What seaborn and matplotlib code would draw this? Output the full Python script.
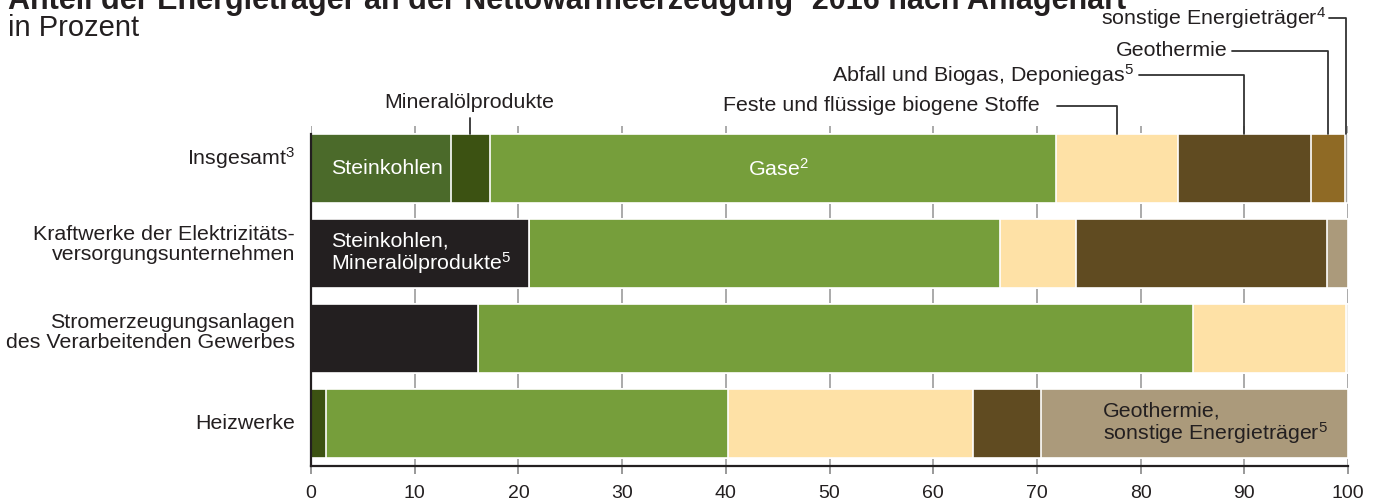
import numpy as np
import pandas as pd
import matplotlib
matplotlib.use("Agg")
import matplotlib.pyplot as plt
import seaborn as sns

# Anteil der Energieträger, in Prozent (von links nach rechts je Zeile)
rows = ["Insgesamt$^3$",
        "Kraftwerke der Elektrizitäts-\nversorgungsunternehmen",
        "Stromerzeugungsanlagen\ndes Verarbeitenden Gewerbes",
        "Heizwerke"]
steinkohlen = [13.5, 21.0, 16.1, 0.0]   # Zeilen 2/3: Steinkohlen + Mineralölprodukte
mineraloel = [3.75, 0.0, 0.0, 1.4]
gase = [54.55, 45.4, 69.0, 38.8]
feste_biogen = [11.8, 7.4, 14.7, 23.6]
abfall = [12.8, 24.2, 0.0, 6.6]
geothermie = [3.3, 2.0, 0.2, 29.6]      # Zeilen 2-4: Geothermie + sonstige
sonstige = [0.3, 0.0, 0.0, 0.0]

series = [steinkohlen, mineraloel, gase, feste_biogen, abfall, geothermie, sonstige]

# colours per series, per row
colors = [
    ["#4b6a2a", "#231f20", "#231f20", "#3c5212"],
    ["#3c5212", "#3c5212", "#3c5212", "#3c5212"],
    ["#769e3b"] * 4,
    ["#fee1a6"] * 4,
    ["#604b21"] * 4,
    ["#8f6a25", "#ab9a7b", "#ab9a7b", "#ab9a7b"],
    ["#a5a5a5"] * 4,
]

sns.set_theme(style="white")
plt.rcParams["font.family"] = ["Liberation Sans", "DejaVu Sans"]
plt.rcParams["mathtext.fontset"] = "custom"
plt.rcParams["mathtext.rm"] = "Liberation Sans"
plt.rcParams["mathtext.it"] = "Liberation Sans:italic"
plt.rcParams["mathtext.bf"] = "Liberation Sans:bold"

DARK = "#231f20"
FS = 15.4      # labels
FS_TICK = 14

fig = plt.figure(figsize=(13.74, 5.04), dpi=100)
ax = fig.add_axes([311 / 1374, 38 / 504, 1037 / 1374, 340 / 504])

cum = np.cumsum(np.array(series), axis=0)
BAR_W = 0.81
# draw cumulative ends from the back so shorter stacks sit on top
for k in range(len(series) - 1, -1, -1):
    df = pd.DataFrame({"row": rows, "wert": cum[k]})
    pal = dict(zip(rows, colors[k]))
    sns.barplot(data=df, x="wert", y="row", hue="row", palette=pal,
                orient="h", width=BAR_W, edgecolor="white", linewidth=1.2,
                legend=False, ax=ax, saturation=1, zorder=2)

ax.set_xlim(0, 100)
ax.set_ylim(3.5, -0.5)
ax.set_xticks(range(0, 101, 10))
ax.set_xlabel("")
ax.set_ylabel("")
ax.grid(axis="x", color="#aaaaaa", lw=1.4, zorder=0)
ax.grid(axis="y", visible=False)
ax.set_axisbelow(True)
ax.tick_params(axis="x", direction="out", length=6, width=1.2, color="#888888",
               labelsize=FS_TICK, labelcolor=DARK, pad=8, bottom=True)
ax.tick_params(axis="y", length=0, labelleft=False)
for s in ["top", "right"]:
    ax.spines[s].set_visible(False)
for s in ["left", "bottom"]:
    ax.spines[s].set_color(DARK)
    ax.spines[s].set_linewidth(1.6)
    ax.spines[s].set_zorder(3)
ax.spines["left"].set_bounds(3.5, -BAR_W / 2)

# row labels (drawn as text so they can sit slightly above centre like the original)
ytr = ax.get_yaxis_transform()
row_shift = [-0.12, -0.11, -0.07, 0.0]
for i, lab in enumerate(rows):
    ax.text(-16 / 1037, i + row_shift[i], lab, transform=ytr, fontsize=FS,
            color=DARK, ha="right", va="center", linespacing=1.05)

# labels inside the bars
ax.text(1.9, 0, "Steinkohlen", color="white", fontsize=FS, va="center", ha="left", zorder=4)
ax.text(45.1, 0, "Gase$^2$", color="white", fontsize=FS, va="center", ha="center", zorder=4)
ax.text(1.9, 1, "Steinkohlen,\nMineralölprodukte$^5$", color="white", fontsize=FS,
        va="center", ha="left", linespacing=1.0, zorder=4)
ax.text(76.4, 3, "Geothermie,\nsonstige Energieträger$^5$", color=DARK, fontsize=FS,
        va="center", ha="left", linespacing=1.0, zorder=4)

# callouts above the first bar
tr = ax.get_xaxis_transform()
bar_top = (3.5 + BAR_W / 2) / 4.0
c0 = cum[:, 0]
starts0 = np.concatenate([[0], c0[:-1]])
centers = (starts0 + c0) / 2

ax.plot([centers[1]] * 2, [bar_top, 1.024], transform=tr, color="#333333",
        lw=1.3, clip_on=False, zorder=5)
ax.text(15.25, 1.068, "Mineralölprodukte", transform=tr, fontsize=FS, color=DARK,
        ha="center", va="center")

callouts = [
    (3, "Feste und flüssige biogene Stoffe", 70.3, 71.97, 1.059),
    (4, "Abfall und Biogas, Deponiegas$^5$", 79.4, 79.8, 1.150),
    (5, "Geothermie", 88.4, 88.8, 1.221),
    (6, "sonstige Energieträger$^4$", 97.9, 98.2, 1.318),
]
for idx, txt, xt, xs, yf in callouts:
    xc = centers[idx]
    ax.plot([xs, xc, xc], [yf, yf, bar_top], transform=tr, color="#333333",
            lw=1.3, clip_on=False, zorder=5)
    ax.text(xt, yf, txt, transform=tr, fontsize=FS, color=DARK,
            ha="right", va="center")

# title (partially cut off at top edge) and unit
fig.text(8 / 1374, 1 - 9 / 504, "Anteil der Energieträger an der Nettowärmeerzeugung¹ 2016 nach Anlagenart",
         fontsize=22, fontweight="bold", color=DARK, ha="left", va="baseline")
fig.text(8 / 1374, 1 - 36 / 504, "in Prozent", fontsize=21, color=DARK,
         ha="left", va="baseline")

fig.savefig("out.png", dpi=100)
